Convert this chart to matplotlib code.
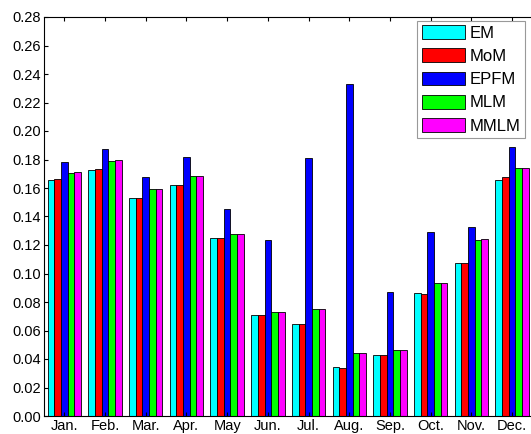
import matplotlib
matplotlib.use("Agg")
import matplotlib.pyplot as plt
import numpy as np

months = ["Jan.", "Feb.", "Mar.", "Apr.", "May", "Jun.", "Jul.",
          "Aug.", "Sep.", "Oct.", "Nov.", "Dec."]
methods = ["EM", "MoM", "EPFM", "MLM", "MMLM"]
colors = ["#00FFFF", "#FF0000", "#0000FF", "#00FF00", "#FF00FF"]

em   = [0.1657, 0.1727, 0.1528, 0.1624, 0.1252, 0.0709, 0.0644, 0.0342, 0.0428, 0.0866, 0.1076, 0.1659]
mom  = [0.1664, 0.1734, 0.1528, 0.1619, 0.1247, 0.0709, 0.0644, 0.0337, 0.0428, 0.0856, 0.1072, 0.1676]
epfm = [0.1785, 0.1874, 0.1676, 0.1818, 0.1455, 0.1235, 0.1809, 0.2331, 0.0868, 0.1294, 0.1327, 0.1888]
mlm  = [0.1708, 0.1792, 0.1596, 0.1687, 0.1275, 0.0728, 0.0751, 0.0440, 0.0461, 0.0931, 0.1236, 0.1739]
mmlm = [0.1710, 0.1795, 0.1596, 0.1687, 0.1275, 0.0728, 0.0751, 0.0440, 0.0461, 0.0931, 0.1240, 0.1741]
series = [em, mom, epfm, mlm, mmlm]

plt.rcParams["font.family"] = ["Liberation Sans", "DejaVu Sans"]

fig = plt.figure(figsize=(5.31, 4.34), dpi=100)
ax = fig.add_axes([44 / 531, 18 / 434, 488.4 / 531, 399 / 434])

x = np.arange(1, len(months) + 1)
w = 0.164
for i, (vals, name, c) in enumerate(zip(series, methods, colors)):
    ax.bar(x + (i - 2) * w, vals, width=w, color=c, edgecolor="black",
           linewidth=0.6, label=name)

ax.set_xlim(0.5, 12.5)
ax.set_ylim(0, 0.28)
ax.set_yticks(np.arange(0, 0.281, 0.02))
ax.set_yticklabels([f"{v:.2f}" for v in np.arange(0, 0.281, 0.02)])
ax.set_xticks(x)
ax.set_xticklabels(months)
ax.tick_params(direction="in", labelsize=10.5, length=3, pad=2, top=True)
ax.spines["right"].set_visible(False)
for s in ax.spines.values():
    s.set_linewidth(0.8)

# legend box sits a few px inside the top-right corner
leg = ax.legend(loc="upper right", bbox_to_anchor=(525 / 531, (434 - 21) / 434),
                bbox_transform=fig.transFigure, fontsize=12,
                handlelength=2.6, handleheight=0.9, labelspacing=0.45,
                handletextpad=0.3, borderpad=0.25, fancybox=False,
                framealpha=1, borderaxespad=0)
leg.get_frame().set_edgecolor("#999999")
leg.get_frame().set_linewidth(0.8)

fig.savefig("out.png", dpi=100)
